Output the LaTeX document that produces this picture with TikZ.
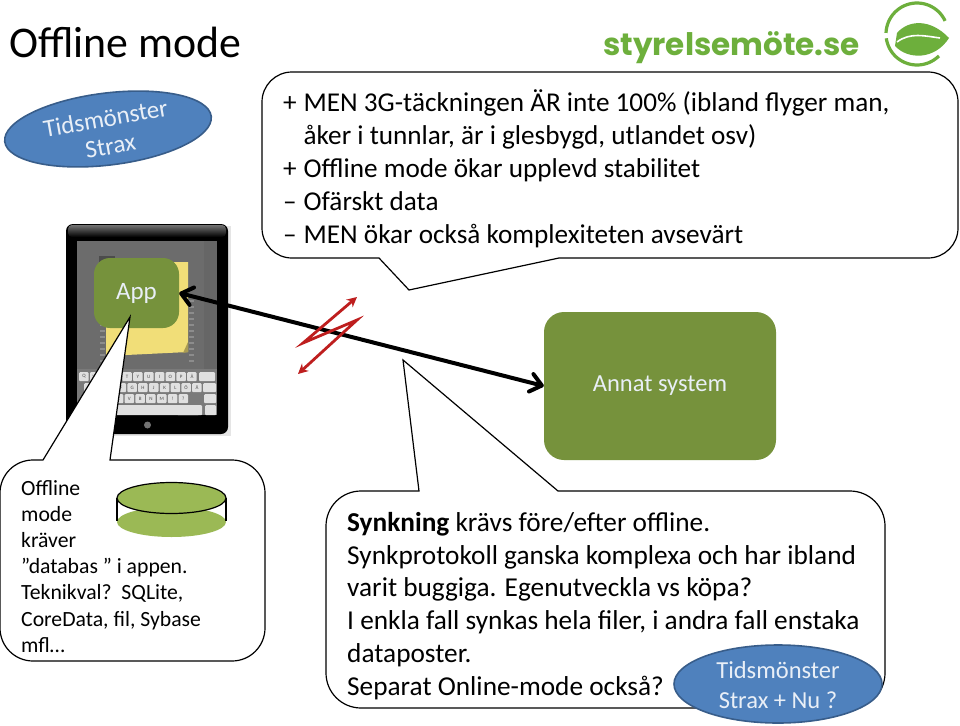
\documentclass[tikz,border=0pt]{standalone}
\usepackage{fontspec}
\setmainfont{Carlito}
\newfontfamily\logofont{Poppins}
\usetikzlibrary{shapes.geometric,arrows.meta}
\definecolor{appgreen}{HTML}{76923C}
\definecolor{dbgreen}{HTML}{9BB955}
\definecolor{ovalblue}{HTML}{4F81BD}
\definecolor{ovalrim}{HTML}{385D8A}
\definecolor{palewhite}{HTML}{E9EFF7}
\definecolor{boltred}{HTML}{BE1E1E}
\definecolor{logogreen}{HTML}{6DAF3C}
\definecolor{screengrey}{HTML}{6C6C6C}
\definecolor{notey}{HTML}{F1DE78}
\newcommand{\fs}[2]{\fontsize{#1}{#2}\selectfont}
\newcommand{\bul}[1]{\makebox[20.5pt][l]{#1}}
\tikzset{
 x=1pt,y=-1pt,
 callout/.style={draw=black,fill=white,line width=1.2pt},
 box/.style={draw=none,fill=appgreen,rounded corners=16pt,inner sep=0pt},
 oval/.style={ellipse,draw=ovalrim,line width=1.6pt,fill=ovalblue,inner sep=0pt},
 ovaltext/.style={text=palewhite,align=center,inner sep=0pt},
 para/.style={anchor=north west,inner sep=0pt,align=left,text=black},
 keycap/.style={draw=none,fill=white!88!black,rounded corners=1pt,inner sep=0pt,text=black!70,font=\fs{5}{5},anchor=north west},
 barb/.tip={Straight Barb[length=11pt,width=18pt,line join=round,round]},
}
\begin{document}
\begin{tikzpicture}
\useasboundingbox (0,0) rectangle (960,725);
\fill[white] (0,0) rectangle (960,725);

% title
\node[anchor=base west,inner sep=0pt,font=\fs{43.8}{44}] (title) at (9,58) {Offline mode};

% logo
\node[anchor=base west,inner sep=0pt,text=logogreen,font=\logofont\bfseries\fs{31}{31}] (logo) at (603,56) {styrelsemöte.se};
\draw[logogreen,line width=3.2pt] plot[domain=25:178,samples=30,smooth] ({917+31*cos(\x)},{34-31*sin(\x)});
\draw[logogreen,line width=3.2pt] plot[domain=188:315,samples=30,smooth] ({917+31*cos(\x)},{34-31*sin(\x)});
\fill[logogreen] (897,33) .. controls (908,20) and (930,18) .. (949,38) .. controls (935,60) and (908,60) .. (895,46) -- cycle;
\draw[white,line width=1.6pt] (897,42) .. controls (910,32) and (925,36) .. (940,38);

% oval top left
\node[oval,minimum width=208pt,minimum height=72pt,rotate=7] (ovalA) at (108,129) {};
\node[ovaltext,rotate=10,font=\fs{25}{28}] (ovalAtext) at (108,132) {Tidsmönster\\Strax};

% iPad
\fill[black!10] (68,226) rectangle (231,436);
\fill[rounded corners=7pt,black] (66,224) rectangle (228,434);
\fill[top color=black!55,bottom color=black,rounded corners=4pt] (68,225) rectangle (226,237);
\fill[screengrey] (77,241) rectangle (217,415);
\fill[black!60!white] (204,241) rectangle (217,372);
\fill[black] (77,237) rectangle (217,241);
\fill[black!70] (99,256) rectangle (115,262);
\foreach \yy in {300,306,...,360} {\fill[black!45] (100,\yy) rectangle (105,\yy+1.5);\fill[black!45] (189,\yy) rectangle (194,\yy+1.5);}
\fill[notey] (106,262) -- (188,262) -- (188,352) -- (106,356) -- cycle;
\fill[black!30!notey] (188,342) -- (188,352) -- (183,353) -- cycle;
% keyboard
\fill[black!52] (77,369) rectangle (217,415);
\foreach \k [count=\i from 0] in {Q,W,E,R,T,Y,U,I,O,P,Å} {
 \node[keycap,minimum width=9.5pt,minimum height=9pt] (kq\i) at (79+\i*10.8,372) {\k};}
\node[keycap,minimum width=16pt,minimum height=9pt] (kback) at (199,372) {};
\foreach \k [count=\i from 0] in {A,S,D,F,G,H,J,K,L,Ö,Ä} {
 \node[keycap,minimum width=9.5pt,minimum height=9pt] (ka\i) at (84+\i*10.8,383) {\k};}
\node[keycap,minimum width=13pt,minimum height=9pt] (kret) at (203,383) {};
\foreach \k [count=\i from 0] in {Z,X,C,V,B,N,M,!,?} {
 \node[keycap,minimum width=9.5pt,minimum height=9pt] (kz\i) at (92+\i*10.8,394) {\k};}
\node[keycap,minimum width=12pt,minimum height=9pt] (kshift) at (204,394) {};
\node[keycap,minimum width=122pt,minimum height=10pt] (kspace) at (77,405) {};
\node[keycap,minimum width=25pt,minimum height=10pt] (knum) at (177,405) {};
\node[keycap,minimum width=11pt,minimum height=10pt] (khide) at (205,405) {};
\fill[black!55] (147.5,425) circle (3.5);

% green boxes
\node[box,minimum width=85pt,minimum height=70pt,text=palewhite,font=\fs{25}{25}] (app) at (136.5,293) {\raisebox{-2pt}{App}};
\node[box,minimum width=232pt,minimum height=148pt,text=palewhite,font=\fs{24.5}{25},rounded corners=20pt] (annat) at (660,386) {\raisebox{-3pt}{Annat system}};

% callouts
\coordinate (tipTop) at (409,290);
\draw[callout] (559,258) [rounded corners=30pt] -- (958,258) -- (958,72) -- (262,72) -- (262,258) [sharp corners] -- (379,258) -- (tipTop) -- cycle;
\node[para,font=\fs{27.2}{33}] (topText) at (283,89) {\bul{+}MEN 3G-täckningen ÄR inte 100\% (ibland flyger man,\\
\bul{}åker i tunnlar, är i glesbygd, utlandet osv)\\
\bul{+}Offline mode ökar upplevd stabilitet\\
\bul{–}Ofärskt data\\
\bul{–}MEN ökar också komplexiteten avsevärt};

\coordinate (tipLeft) at (130,317);
\draw[callout] (110,460) [rounded corners=33pt] -- (265,460) -- (265,661) -- (0,661) -- (0,460) [sharp corners] -- (43,460) -- (tipLeft) -- cycle;
\node[para,font=\fs{21.7}{26.2}] (leftText) at (21,480) {Offline\\mode\\kräver\\”databas ” i appen.\\Teknikval?\ \ SQLite,\\CoreData, fil, Sybase\\mfl…};

% database
\fill[dbgreen] (171.5,522) ellipse (54.5 and 15);
\draw[black,line width=1.2pt] (117,498) -- (117,521);
\draw[black,line width=1.2pt] (226,498) -- (226,521);
\node[ellipse,draw=black,line width=1.2pt,fill=dbgreen,minimum width=109pt,minimum height=31pt,inner sep=0pt] (dbtop) at (171.5,498) {};

\coordinate (tipBottom) at (403,360);
\draw[callout] (558,491) [rounded corners=35pt] -- (885,491) -- (885,708) -- (326,708) -- (326,491) [sharp corners] -- (419,491) -- (tipBottom) -- cycle;
\node[para,font=\fs{27.3}{32.8}] (bottomText) at (347,512) {\textbf{Synkning} krävs före/efter offline.\\
Synkprotokoll ganska komplexa och har ibland\\
varit buggiga. Egenutveckla vs köpa?\\
I enkla fall synkas hela filer, i andra fall enstaka\\
dataposter.\\
Separat Online-mode också?};

% oval bottom right
\node[oval,minimum width=208pt,minimum height=78pt] (ovalB) at (778,684) {};
\node[ovaltext,font=\fs{24.5}{30}] (ovalBtext) at (778,685) {Tidsmönster\\Strax + Nu ?};

% arrow
\draw[black,line width=4pt,line cap=round,barb-barb] (app.east) -- (annat.west);

% lightning
\coordinate (boltA) at (298,374);
\coordinate (boltB) at (357,320);
\coordinate (boltC) at (303,343);
\coordinate (boltD) at (357,297);
\draw[boltred,line width=2.8pt,line join=miter,{Stealth[length=10pt,width=10pt]}-{Stealth[length=10pt,width=10pt]}] (boltA) -- (boltB) -- (boltC) -- (boltD);
\end{tikzpicture}
\end{document}
